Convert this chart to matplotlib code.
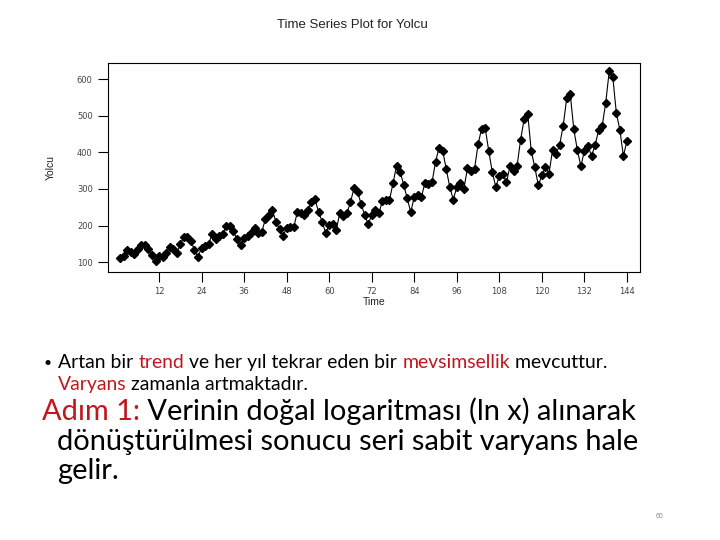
import matplotlib.pyplot as plt
import numpy as np

# Monthly passengers (Yolcu), 144 observations
yolcu = [112, 118, 132, 129, 121, 135, 148, 148, 136, 119, 104, 118,
         115, 126, 141, 135, 125, 149, 170, 170, 158, 133, 114, 140,
         145, 150, 178, 163, 172, 178, 199, 199, 184, 162, 146, 166,
         171, 180, 193, 181, 183, 218, 230, 242, 209, 191, 172, 194,
         196, 196, 236, 235, 229, 243, 264, 272, 237, 211, 180, 201,
         204, 188, 235, 227, 234, 264, 302, 293, 259, 229, 203, 229,
         242, 233, 267, 269, 270, 315, 364, 347, 312, 274, 237, 278,
         284, 277, 317, 313, 318, 374, 413, 405, 355, 306, 271, 306,
         315, 301, 356, 348, 355, 422, 465, 467, 404, 347, 305, 336,
         340, 318, 362, 348, 363, 435, 491, 505, 404, 359, 310, 337,
         360, 342, 406, 396, 420, 472, 548, 559, 463, 407, 362, 405,
         417, 391, 419, 461, 472, 535, 622, 606, 508, 461, 390, 432]
time = np.arange(1, len(yolcu) + 1)
x_ticks = [12, 24, 36, 48, 60, 72, 84, 96, 108, 120, 132, 144]
y_ticks = [100, 200, 300, 400, 500, 600]

red = '#c0171c'

fig = plt.figure(figsize=(7.2, 5.4), dpi=100)
ax = fig.add_axes([0.15, 0.496, 0.739, 0.387])

ax.plot(time, yolcu, color='black', linewidth=0.8, marker='D',
        markersize=3.6, markerfacecolor='black', markeredgecolor='black')
ax.set_xlim(-2.4, 147.7)
ax.set_ylim(72.7, 643.7)
ax.set_xticks(x_ticks)
ax.set_yticks(y_ticks)
ax.tick_params(labelsize=6, colors='black', labelcolor='#444444', width=0.8,
               length=7, pad=4)
for s in ax.spines.values():
    s.set_linewidth(0.8)

ax.set_xlabel('Time', fontsize=7.5, family='Liberation Sans', color='#222222', labelpad=0.5)
ax.set_ylabel('Yolcu', fontsize=7.5, family='Liberation Sans', color='#222222', labelpad=15.5)

# overlay axes in figure coordinates for the slide text
tax = fig.add_axes([0, 0, 1, 1])
tax.axis('off')
tax.set_xlim(0, 1)
tax.set_ylim(0, 1)

tax.text(0.489, 0.953, 'Time Series Plot for Yolcu', ha='center', va='center',
         fontsize=9.5, family='Liberation Sans', color='#222222')

renderer = fig.canvas.get_renderer()


def colored_line(x, y, pieces, size):
    for txt, col in pieces:
        t = tax.text(x, y, txt, color=col, fontsize=size, family='Lato',
                     va='baseline', ha='left')
        x = t.get_window_extent(renderer).x1 / fig.bbox.width


tax.text(0.060, 0.321, '\u2022', fontsize=10, family='Lato', va='baseline')
colored_line(0.081, 0.318, [('Artan bir ', 'black'), ('trend', red),
                            (' ve her y\u0131l tekrar eden bir ', 'black'),
                            ('mevsimsellik', red), (' mevcuttur.', 'black')], 13.95)
colored_line(0.080, 0.278, [('Varyans', red), (' zamanla artmaktad\u0131r.', 'black')], 13.95)

colored_line(0.058, 0.222, [('Ad\u0131m 1:', red),
                            (' Verinin do\u011fal logaritmas\u0131 (ln x) al\u0131narak', 'black')], 20.85)
tax.text(0.079, 0.167, 'd\u00f6n\u00fc\u015ft\u00fcr\u00fclmesi sonucu seri sabit varyans hale',
         fontsize=20.85, family='Lato', va='baseline')
tax.text(0.079, 0.113, 'gelir.', fontsize=20.85, family='Lato', va='baseline')

tax.text(0.911, 0.040, '60', fontsize=5, color='#888888', family='Liberation Sans')

fig.savefig('out.png', dpi=100)
